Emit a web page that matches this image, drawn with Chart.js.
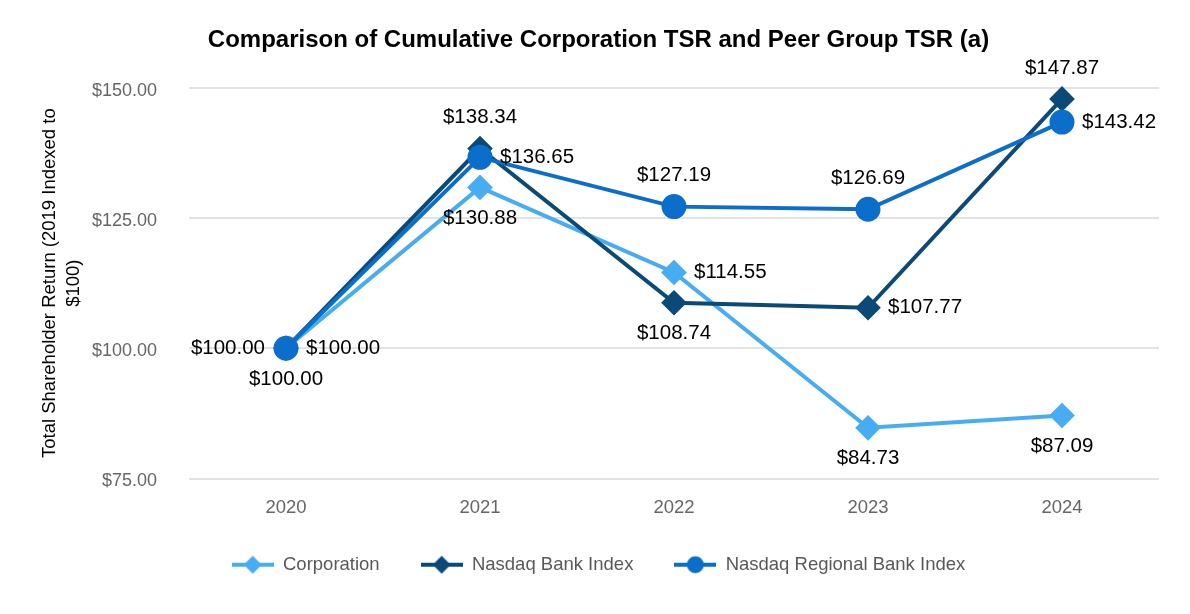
<!DOCTYPE html>
<html>
<head>
<meta charset="utf-8">
<script src="https://cdn.jsdelivr.net/npm/chart.js@4"></script>
<style>
  html, body { margin: 0; padding: 0; background: #fff; }
  #wrap { width: 1190px; height: 614px; }
</style>
</head>
<body>
<div id="wrap"><canvas id="tsrChart"></canvas></div>
<script>
var years = ["2020", "2021", "2022", "2023", "2024"];
var corporation = [100.00, 130.88, 114.55, 84.73, 87.09];
var bankIndex = [100.00, 138.34, 108.74, 107.77, 147.87];
var regionalIndex = [100.00, 136.65, 127.19, 126.69, 143.42];
var yTicks = [75, 100, 125, 150];

// where each value label goes relative to its point
var labelSide = [
    ["below", "below", "right", "below", "below"],
    ["left", "above", "below", "right", "above"],
    ["right", "right", "above", "above", "right"]
];

var colors = ["#47ADF3", "#0B4A78", "#0B6ECB"];
var font = "'Liberation Sans', Arial, sans-serif";

function legendIcon(color, style) {
    var c = document.createElement("canvas");
    c.width = 42; c.height = 22;
    var g = c.getContext("2d");
    g.strokeStyle = color; g.fillStyle = color; g.lineWidth = 4;
    g.beginPath(); g.moveTo(0, 11); g.lineTo(42, 11); g.stroke();
    g.beginPath();
    if (style === "circle") {
        g.arc(21, 11, 8.5, 0, Math.PI * 2);
    } else {
        g.moveTo(21, 2); g.lineTo(30, 11); g.lineTo(21, 20); g.lineTo(12, 11); g.closePath();
    }
    g.fill();
    return c;
}
var icons = [legendIcon(colors[0], "diamond"), legendIcon(colors[1], "diamond"), legendIcon(colors[2], "circle")];

var valueLabels = {
    id: "valueLabels",
    afterDatasetsDraw: function(chart) {
        var ctx = chart.ctx;
        ctx.save();
        ctx.font = "20.5px " + font;
        ctx.fillStyle = "#000";
        chart.data.datasets.forEach(function(ds, i) {
            var meta = chart.getDatasetMeta(i);
            meta.data.forEach(function(pt, j) {
                var txt = "$" + ds.data[j].toFixed(2);
                var side = labelSide[i][j];
                var x = pt.x, y = pt.y;
                ctx.textBaseline = "middle";
                if (side === "above") { ctx.textAlign = "center"; y -= 31; }
                else if (side === "below") { ctx.textAlign = "center"; y += 31; }
                else if (side === "left") { ctx.textAlign = "right"; x -= 21; }
                else { ctx.textAlign = "left"; x += 20; }
                ctx.fillText(txt, x, y);
            });
        });
        ctx.restore();
    }
};

var ctx = document.getElementById("tsrChart");
var tsrChart = new Chart(ctx, {
    type: "line",
    data: {
        labels: years,
        datasets: [{
            label: "Corporation",
            data: corporation,
            borderColor: colors[0],
            backgroundColor: colors[0],
            pointStyle: "rectRot",
            pointRadius: 10,
            borderWidth: 4,
            order: 2
        }, {
            label: "Nasdaq Bank Index",
            data: bankIndex,
            borderColor: colors[1],
            backgroundColor: colors[1],
            pointStyle: "rectRot",
            pointRadius: 10,
            borderWidth: 4,
            order: 1
        }, {
            label: "Nasdaq Regional Bank Index",
            data: regionalIndex,
            borderColor: colors[2],
            backgroundColor: colors[2],
            pointStyle: "circle",
            pointRadius: 10.5,
            borderWidth: 4,
            order: 0
        }]
    },
    options: {
        responsive: true,
        maintainAspectRatio: false,
        animation: false,
        clip: false,
        layout: { padding: { left: 38, right: 31, bottom: 30, top: 0 } },
        plugins: {
            title: {
                display: true,
                text: "Comparison of Cumulative Corporation TSR and Peer Group TSR (a)",
                color: "#000",
                font: { family: font, size: 24, weight: "bold" },
                padding: { top: 26, bottom: 33 }
            },
            legend: {
                position: "bottom",
                labels: {
                    color: "#595959",
                    font: { family: font, size: 18.5 },
                    usePointStyle: true,
                    pointStyleWidth: 42,
                    padding: 41,
                    generateLabels: function(chart) {
                        var items = Chart.defaults.plugins.legend.labels.generateLabels(chart);
                        items.sort(function(a, b) { return a.datasetIndex - b.datasetIndex; });
                        items.forEach(function(it) { it.pointStyle = icons[it.datasetIndex]; });
                        return items;
                    }
                }
            },
            tooltip: { enabled: false }
        },
        scales: {
            x: {
                offset: true,
                grid: { display: false, drawTicks: false },
                border: { display: false },
                ticks: { color: "#666", font: { family: font, size: 18.5 }, padding: 18 },
                afterFit: function(scale) { scale.height = 36; }
            },
            y: {
                min: 75,
                max: 150,
                afterBuildTicks: function(axis) {
                    axis.ticks = yTicks.map(function(v) { return { value: v }; });
                },
                grid: { color: "#e3e3e3", lineWidth: 2, drawTicks: false },
                border: { display: false },
                ticks: {
                    color: "#666",
                    font: { family: font, size: 18 },
                    padding: 32,
                    labelOffset: 3,
                    callback: function(v) { return "$" + v.toFixed(2); }
                },
                title: {
                    display: true,
                    text: ["Total Shareholder Return (2019 Indexed to", "$100)"],
                    color: "#000",
                    font: { family: font, size: 18.5, lineHeight: 1.3 },
                    padding: 0
                },
                afterFit: function(scale) { scale.width = 151; }
            }
        }
    },
    plugins: [valueLabels]
});
</script>
</body>
</html>
